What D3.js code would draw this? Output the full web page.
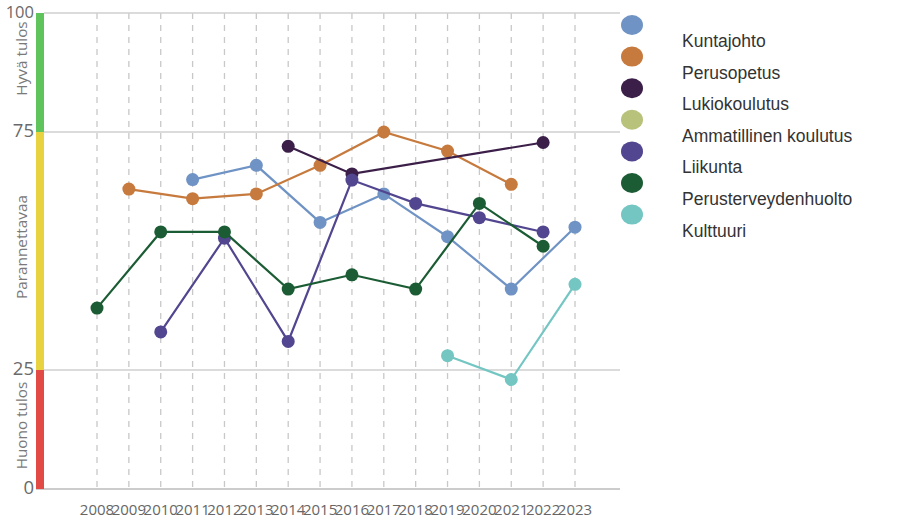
<!DOCTYPE html>
<html>
<head>
<meta charset="utf-8">
<script src="https://cdn.jsdelivr.net/npm/d3@7"></script>
<style>
  body { margin: 0; background: #fff; }
  svg { display: block; }
</style>
</head>
<body>
<script>
// data
var years = [2008, 2009, 2010, 2011, 2012, 2013, 2014, 2015, 2016, 2017, 2018, 2019, 2020, 2021, 2022, 2023];
var seriesNames = ["Kuntajohto", "Perusopetus", "Lukiokoulutus", "Ammatillinen koulutus", "Liikunta", "Perusterveydenhuolto", "Kulttuuri"];
var seriesColors = ["#6f93c4", "#c77a3d", "#3b1f49", "#b9c27b", "#51468f", "#1b5c34", "#74c6c3"];

var kuntajohtoYears = [2011, 2013, 2015, 2017, 2019, 2021, 2023];
var kuntajohto = [65, 68, 56, 62, 53, 42, 55];
var perusopetusYears = [2009, 2011, 2013, 2015, 2017, 2019, 2021];
var perusopetus = [63, 61, 62, 68, 75, 71, 64];
var lukioYears = [2014, 2016, 2022];
var lukio = [72, 66.2, 72.8];
var ammatillinenYears = [];
var ammatillinen = [];
var liikuntaYears = [2010, 2012, 2014, 2016, 2018, 2020, 2022];
var liikunta = [33, 52.7, 31, 64.9, 60, 57, 54];
var terveysYears = [2008, 2010, 2012, 2014, 2016, 2018, 2020, 2022];
var terveys = [38, 54, 54, 42, 45, 42, 60, 51];
var kulttuuriYears = [2019, 2021, 2023];
var kulttuuri = [28, 23, 43];

var bands = [
  {from: 75, to: 100, label: "Hyvä tulos", color: "#5fc45c"},
  {from: 25, to: 75, label: "Parannettavaa", color: "#e9d23f"},
  {from: 0, to: 25, label: "Huono tulos", color: "#e24a45"}
];
var yTicks = [0, 25, 75, 100];

var seriesYears = [kuntajohtoYears, perusopetusYears, lukioYears, ammatillinenYears, liikuntaYears, terveysYears, kulttuuriYears];
var seriesValues = [kuntajohto, perusopetus, lukio, ammatillinen, liikunta, terveys, kulttuuri];

var width = 918, height = 519;
var plotLeft = 36, plotRight = 620, barW = 8;

var x = d3.scaleLinear().domain([2008, 2023]).range([97, 575]);
var y = d3.scaleLinear().domain([0, 100]).range([489, 13]);

var svg = d3.select("body").append("svg").attr("width", width).attr("height", height);

// vertical dashed grid
svg.append("g").selectAll("line").data(years).enter().append("line")
    .attr("x1", function(d){ return x(d); })
    .attr("x2", function(d){ return x(d); })
    .attr("y1", y(100))
    .attr("y2", y(0) + 2)
    .attr("stroke", "#c8c8c8")
    .attr("stroke-width", 1.3)
    .attr("stroke-dasharray", "6,6");

// horizontal grid lines
svg.append("g").selectAll("line").data(yTicks).enter().append("line")
    .attr("x1", function(d){ return d == 0 ? plotLeft : plotLeft + barW; })
    .attr("x2", plotRight)
    .attr("y1", function(d){ return y(d); })
    .attr("y2", function(d){ return y(d); })
    .attr("stroke", function(d){ return d == 0 ? "#bbb" : "#cfcfcf"; })
    .attr("stroke-width", 1.5);

// colour bands
svg.append("g").selectAll("rect").data(bands).enter().append("rect")
    .attr("x", plotLeft)
    .attr("width", barW)
    .attr("y", function(d){ return y(d.to); })
    .attr("height", function(d){ return y(d.from) - y(d.to); })
    .attr("fill", function(d){ return d.color; });

svg.append("g").selectAll("text").data(bands).enter().append("text")
    .attr("transform", function(d, i){
      var cy = y((d.from + d.to) / 2) - (i == 0 ? 14 : 4);
      return "translate(23," + cy + ") rotate(-90)";
    })
    .attr("text-anchor", "middle")
    .attr("dominant-baseline", "middle")
    .attr("font-family", "Open Sans, sans-serif")
    .attr("font-size", 15.3)
    .attr("fill", "#7a7a7a")
    .text(function(d){ return d.label; });

// y tick labels
svg.append("g").selectAll("text").data(yTicks).enter().append("text")
    .attr("x", 34)
    .attr("y", function(d){ return d == 100 ? y(d) + 1 : y(d); })
    .attr("text-anchor", "end")
    .attr("dominant-baseline", "middle")
    .attr("font-family", "Open Sans, sans-serif")
    .attr("font-size", function(d){ return d == 100 ? 16.5 : 18.5; })
    .attr("fill", "#6a6a6a")
    .text(function(d){ return d; });

// x axis labels
svg.append("g").selectAll("text").data(years).enter().append("text")
    .attr("x", function(d){ return x(d); })
    .attr("y", 515)
    .attr("text-anchor", "middle")
    .attr("font-family", "Open Sans, sans-serif")
    .attr("font-size", 15)
    .attr("fill", "#666")
    .text(function(d){ return d; });

// series
var line = d3.line()
    .x(function(d){ return x(d[0]); })
    .y(function(d){ return y(d[1]); });

seriesNames.forEach(function(name, i){
  var pts = seriesYears[i].map(function(yr, j){ return [yr, seriesValues[i][j]]; });
  if (pts.length == 0) return;
  var g = svg.append("g");
  g.append("path")
      .attr("fill", "none")
      .attr("stroke", seriesColors[i])
      .attr("stroke-width", 2.2)
      .attr("d", line(pts));
  g.selectAll("circle").data(pts).enter().append("circle")
      .attr("cx", function(d){ return x(d[0]); })
      .attr("cy", function(d){ return y(d[1]); })
      .attr("r", 6.5)
      .attr("fill", seriesColors[i]);
});

// legend
var legend = svg.append("g").selectAll("g").data(seriesNames).enter().append("g")
    .attr("transform", function(d, i){ return "translate(632," + (25 + i * 31.6) + ")"; });
legend.append("ellipse")
    .attr("rx", 11)
    .attr("ry", 10)
    .attr("fill", function(d, i){ return seriesColors[i]; });
legend.append("text")
    .attr("x", 50)
    .attr("y", 22)
    .attr("font-family", "Liberation Sans, Arial, sans-serif")
    .attr("font-size", 17.5)
    .attr("fill", "#333")
    .text(function(d){ return d; });
</script>
</body>
</html>
